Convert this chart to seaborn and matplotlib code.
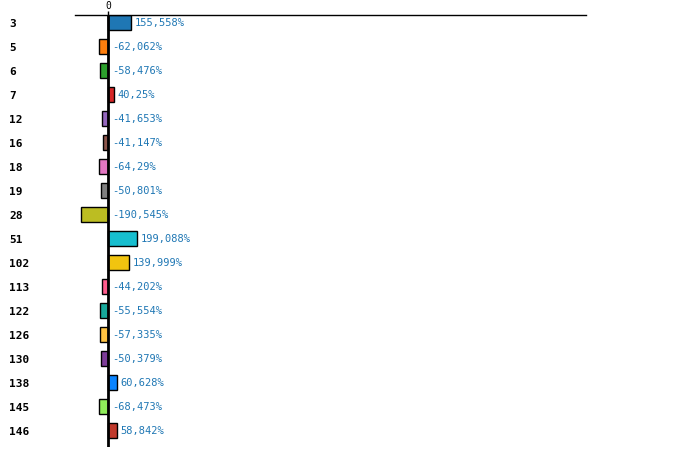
import matplotlib
matplotlib.use("Agg")
import matplotlib.pyplot as plt
import seaborn as sns
import pandas as pd

categories = ["3", "5", "6", "7", "12", "16", "18", "19", "28", "51",
              "102", "113", "122", "126", "130", "138", "145", "146"]
values = [155.558, -62.062, -58.476, 40.25, -41.653, -41.147, -64.29, -50.801,
          -190.545, 199.088, 139.999, -44.202, -55.554, -57.335, -50.379,
          60.628, -68.473, 58.842]
colors = ["#1f77b4", "#ff7f0e", "#2ca02c", "#d62728", "#9467bd", "#8c564b",
          "#e377c2", "#7f7f7f", "#bcbd22", "#17becf", "#f1c40f", "#ff5c8d",
          "#17a89b", "#ffc342", "#7d3c98", "#0a84ff", "#90ee5a", "#c0392b"]
x_domain = [-231, 3293]

df = pd.DataFrame({"cat": categories, "val": values})

sns.set_theme(style="white")
plt.rcParams["font.family"] = ["DejaVu Sans Mono", "DejaVu Sans"]

W, H = 700, 477
fig = plt.figure(figsize=(W / 100, H / 100), dpi=100)
ax_left, ax_right, ax_top, ax_bottom = 75, 586, 15.5, 447.5
ax = fig.add_axes([ax_left / W, 1 - ax_bottom / H, (ax_right - ax_left) / W,
                   (ax_bottom - ax_top) / H])

sns.barplot(data=df, x="val", y="cat", hue="cat", palette=colors, order=categories,
            hue_order=categories, orient="h", width=0.65, edgecolor="black",
            linewidth=1, legend=False, ax=ax, saturation=1)

ax.set_xlim(*x_domain)
ax.set_ylim(17.667, -0.333)
ax.axvline(0, color="black", lw=2, zorder=5)

for s in ["left", "right", "bottom"]:
    ax.spines[s].set_visible(False)
ax.spines["top"].set_color("black")
ax.spines["top"].set_linewidth(1)

ax.xaxis.tick_top()
ax.set_xticks([0])
ax.set_xticklabels(["0"])
ax.tick_params(axis="x", length=3, width=1, color="black", pad=0.5, labelsize=7,
               labelcolor="black", top=True, bottom=False)
ax.set_xlabel("")
ax.set_ylabel("")

ax.set_yticks(range(len(categories)))
ax.set_yticklabels(categories)
ax.tick_params(axis="y", length=0, pad=(ax_left - 9) * 0.72, labelsize=8)
for t in ax.get_yticklabels():
    t.set_horizontalalignment("left")
    t.set_fontweight("bold")
    t.set_color("black")


def fmt(v):
    s = f"{v:.3f}".rstrip("0").rstrip(".")
    return s.replace(".", ",") + "%"


for i, v in enumerate(values):
    xpos = v if v > 0 else 0
    off = 3.5 if v > 0 else 3.5
    ax.annotate(fmt(v), (xpos, i), xytext=(off * 0.72, 0), textcoords="offset points",
                ha="left", va="center", fontsize=7.5, color="#1f77b4")

fig.savefig("out.png", dpi=100)
